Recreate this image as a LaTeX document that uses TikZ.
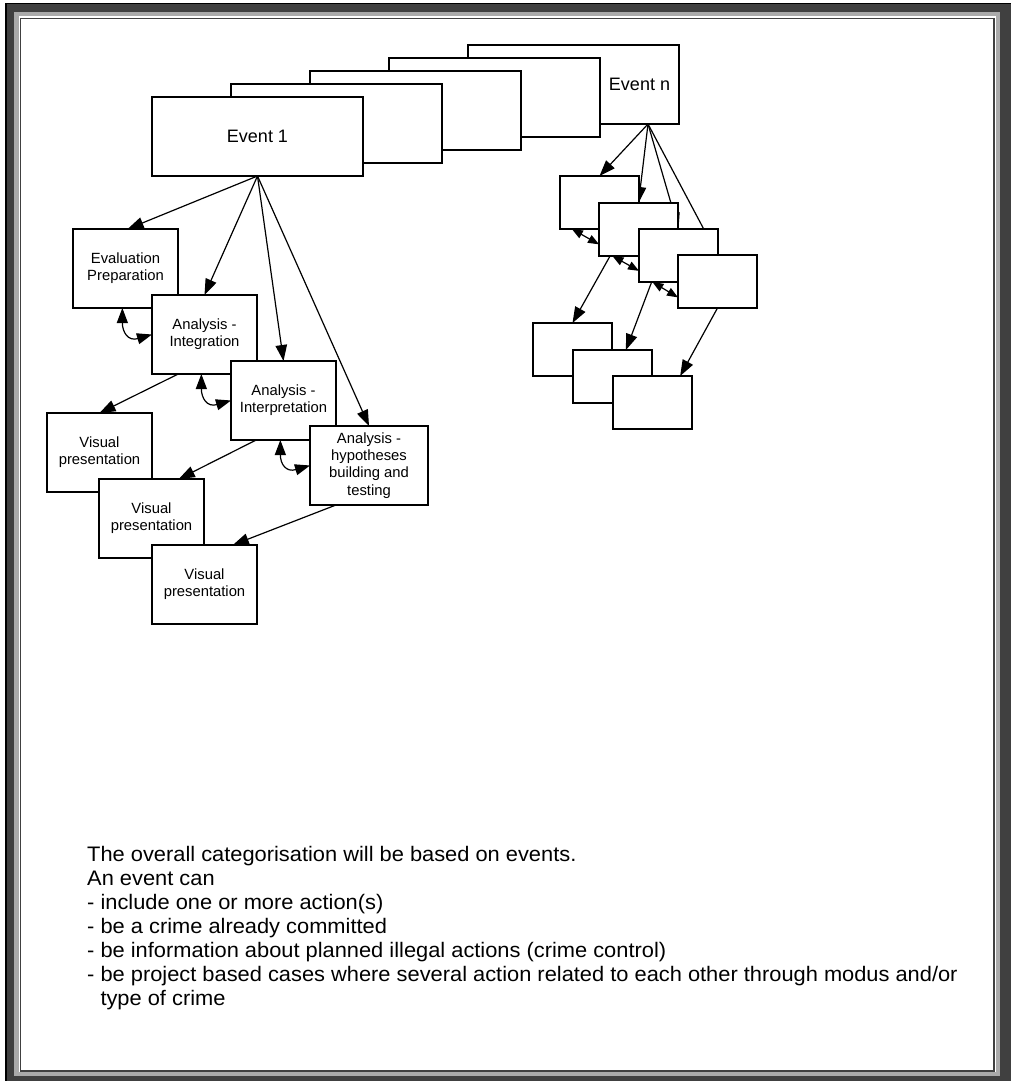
\documentclass[tikz,border=0pt]{standalone}
\usepackage{fontspec}
\setmainfont{Liberation Sans}
\usetikzlibrary{arrows.meta,calc}
\newcommand\labelsize{\fontsize{14.8pt}{17.3pt}\selectfont}
\newcommand\eventsize{\fontsize{18pt}{21pt}\selectfont}
\newfontfamily\notefont[FakeStretch=1.04]{Liberation Sans}
\newcommand\notesize{\notefont\fontsize{21pt}{24pt}\selectfont}
\definecolor{framedark}{RGB}{64,64,64}
\definecolor{framelight}{RGB}{170,170,170}
\pgfdeclarelayer{frame}
\pgfdeclarelayer{behind}
\pgfsetlayers{frame,behind,main}

\begin{document}
\begin{tikzpicture}[x=1pt,y=-1pt,
  box/.style={draw=black, fill=white, line width=1.3pt, inner sep=0pt, outer sep=0pt,
    align=center, anchor=north west, font=\labelsize},
  eventbox/.style={box, minimum width=211pt, minimum height=79pt, font=\eventsize},
  stagebox/.style={box, minimum width=105pt, minimum height=79pt},
  smallbox/.style={box, minimum width=79pt, minimum height=53pt},
  arr/.style={-{Triangle[length=16pt,width=11.5pt]}, line width=1.2pt},
  twoway/.style={{Triangle[length=15pt,width=11pt]}-{Triangle[length=15pt,width=11pt]}, line width=1.2pt},
  smalltwoway/.style={{Triangle[length=11pt,width=8.5pt]}-{Triangle[length=11pt,width=8.5pt]}, line width=1.2pt},
]
\useasboundingbox (0,0) rectangle (1011,1081);

% page frame
\begin{pgfonlayer}{frame}
  \fill[white] (0,0) rectangle (1011,1081);
  \fill[framedark] (5,3) rectangle (1011,1081);
  \draw[black, line width=1.5pt] (5.75,1081) -- (5.75,3.75) -- (1011,3.75);
  \fill[framelight] (14,12) rectangle (1000,1076);
  \fill[white] (19,16) rectangle (996,1072);
  \draw[framedark, line width=1.3pt] (20.5,18.5) rectangle (994,1071);
\end{pgfonlayer}

% stack of events
\node[eventbox] (evn) at (468,45) {};
\node[eventbox] (ev4) at (389,58) {};
\node[eventbox] (ev3) at (310,71) {};
\node[eventbox] (ev2) at (231,84) {};
\node[eventbox] (ev1) at (152,97) {Event 1};
\node[font=\eventsize, inner sep=0pt] (evnlabel) at ($(evn.east)+(-39.5,0)$) {Event n};

% stages of the first event
\node[stagebox] (eval) at (73,229) {Evaluation\\Preparation};
\node[stagebox] (integ) at (152,295) {Analysis -\\Integration};
\node[stagebox] (interp) at (231,361) {Analysis -\\Interpretation};
\node[stagebox, minimum width=118pt] (hyp) at (310,426) {Analysis -\\hypotheses\\building and\\testing};
\node[stagebox] (vis1) at (47,413) {Visual\\presentation};
\node[stagebox] (vis2) at (99,479) {Visual\\presentation};
\node[stagebox] (vis3) at (152,545) {Visual\\presentation};

\draw[arr] (ev1.south) -- ($(eval.north west)!0.52!(eval.north east)$);
\draw[arr] (ev1.south) -- (integ.north);
\draw[arr] (ev1.south) -- (interp.north);
\draw[arr] (ev1.south) -- (hyp.north);

\draw[twoway] ($(eval.south west)!0.47!(eval.south east)$) .. controls +(0,24) and +(-24,7) .. (integ.west);
\draw[twoway] ($(integ.south west)!0.47!(integ.south east)$) .. controls +(0,24) and +(-24,7) .. (interp.west);
\draw[twoway] ($(interp.south west)!0.47!(interp.south east)$) .. controls +(0,24) and +(-24,7) .. (hyp.west);

\draw[arr] ($(integ.south west)!0.25!(integ.south east)$) -- (vis1.north);
\draw[arr] ($(interp.south west)!0.24!(interp.south east)$) -- ($(vis2.north west)!0.76!(vis2.north east)$);
\draw[arr] ($(hyp.south west)!0.22!(hyp.south east)$) -- ($(vis3.north west)!0.77!(vis3.north east)$);

% stages of the last event
\coordinate (evnfoot) at ($(evn.south east)+(-31,0)$);
\node[smallbox] (ra) at (560,176) {};
\node[smallbox] (rb) at (599,203) {};
\node[smallbox] (rc) at (639,229) {};
\node[smallbox] (rd) at (678,255) {};
\node[smallbox] (re) at (533,323) {};
\node[smallbox] (rf) at (573,350) {};
\node[smallbox] (rg) at (613,376) {};

\begin{pgfonlayer}{behind}
  \draw[arr] (evnfoot) -- (ra.north);
  \draw[arr] (evnfoot) -- (rb.north);
  \draw[arr] (evnfoot) -- (rc.north);
  \draw[arr] (evnfoot) -- (rd.north);
\end{pgfonlayer}

\draw[smalltwoway] ($(ra.south west)!0.15!(ra.south east)$) -- ($(rb.north west)!0.78!(rb.south west)$);
\draw[smalltwoway] ($(rb.south west)!0.17!(rb.south east)$) -- ($(rc.north west)!0.79!(rc.south west)$);
\draw[smalltwoway] ($(rc.south west)!0.17!(rc.south east)$) -- ($(rd.north west)!0.8!(rd.south west)$);

\draw[arr] ($(rb.south west)!0.14!(rb.south east)$) -- (re.north);
\draw[arr] ($(rc.south west)!0.16!(rc.south east)$) -- ($(rf.north west)!0.67!(rf.north east)$);
\draw[arr] (rd.south) -- ($(rg.north west)!0.85!(rg.north east)$);

% explanatory note
\node[anchor=north west, inner sep=0pt, align=left, font=\notesize] (note) at (87,846)
  {The overall categorisation will be based on events.\\
   An event can\\
   - include one or more action(s)\\
   - be a crime already committed\\
   - be information about planned illegal actions (crime control)\\
   - be project based cases where several action related to each other through modus and/or\\
   \hspace*{13.3pt}type of crime};
\end{tikzpicture}
\end{document}
